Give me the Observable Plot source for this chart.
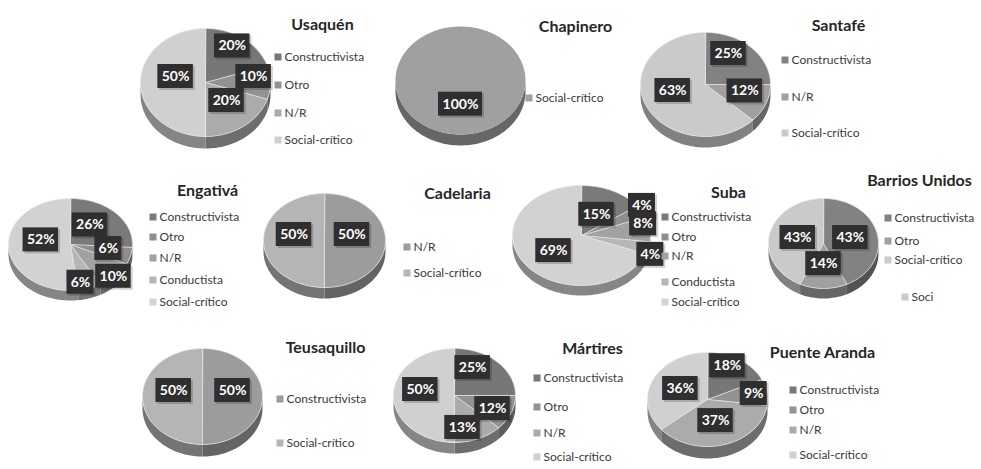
<!DOCTYPE html>
<html>
<head>
<meta charset="utf-8">
<script src="https://cdn.jsdelivr.net/npm/d3@7"></script>
<script src="https://cdn.jsdelivr.net/npm/@observablehq/plot@0.6"></script>
<style>
  body { margin: 0; background: #ffffff; }
  #chart svg { display: block; }
</style>
</head>
<body>
<div id="chart"></div>
<script>
// ---------- DATA ----------
const districts = ["Usaquén", "Chapinero", "Santafé", "Engativá", "Cadelaria",
  "Suba", "Barrios Unidos", "Teusaquillo", "Mártires", "Puente Aranda"];

const catUsaquen = ["Constructivista", "Otro", "N/R", "Social-crítico"];
const valUsaquen = [20, 10, 20, 50];

const catChapinero = ["Social-crítico"];
const valChapinero = [100];

const catSantafe = ["Constructivista", "N/R", "Social-crítico"];
const valSantafe = [25, 12, 63];

const catEngativa = ["Constructivista", "Otro", "N/R", "Conductista", "Social-crítico"];
const valEngativa = [26, 6, 10, 6, 52];

const catCadelaria = ["N/R", "Social-crítico"];
const valCadelaria = [50, 50];

const catSuba = ["Constructivista", "Otro", "N/R", "Conductista", "Social-crítico"];
const valSuba = [15, 4, 8, 4, 69];

const catBarrios = ["Constructivista", "Otro", "Social-crítico"];
const valBarrios = [43, 14, 43];
const legendBarrios = ["Constructivista", "Otro", "Social-crítico", "Soci"];

const catTeusaquillo = ["Constructivista", "Social-crítico"];
const valTeusaquillo = [50, 50];

const catMartires = ["Constructivista", "Otro", "N/R", "Social-crítico"];
const valMartires = [25, 12, 13, 50];

const catPuente = ["Constructivista", "Otro", "N/R", "Social-crítico"];
const valPuente = [18, 9, 37, 36];

const categories = [catUsaquen, catChapinero, catSantafe, catEngativa, catCadelaria,
  catSuba, catBarrios, catTeusaquillo, catMartires, catPuente];
const values = [valUsaquen, valChapinero, valSantafe, valEngativa, valCadelaria,
  valSuba, valBarrios, valTeusaquillo, valMartires, valPuente];
const legends = categories.map((c, i) => i === 6 ? legendBarrios : c);

// ---------- LAYOUT / STYLE ----------
const W = 981, H = 469;
// lf: radial placement factor of each data label ([fx, fy] or single value)
const layout = [
  {cx: 205, cy: 82,  rx: 65, ry: 54, d: 12, tx: 322, ty: 24,  lx: 278, ly: [57, 85, 113, 140],
   lf: [0.7, 0.74, 0.55, 0.46]},
  {cx: 460, cy: 80,  rx: 65, ry: 54, d: 11, tx: 575, ty: 26,  lx: 529, ly: [98],
   lf: [0.55]},
  {cx: 705, cy: 84,  rx: 65, ry: 52, d: 11, tx: 838, ty: 25,  lx: 785, ly: [60, 97, 133],
   lf: [[0.5, 0.68], 0.65, [0.55, 0.58]]},
  {cx: 70,  cy: 244, rx: 62, ry: 46, d: 10, tx: 207, ty: 190, lx: 153, ly: [217, 237, 258, 280, 302],
   lf: [0.43, [0.63, 0.87], [0.95, 1.2], [0.52, 1.0], 0.48]},
  {cx: 324, cy: 240, rx: 61, ry: 47, d: 11, tx: 457, ty: 193, lx: 407, ly: [247, 273],
   lf: [0.45, 0.5]},
  {cx: 581, cy: 235, rx: 69, ry: 50, d: 10, tx: 728, ty: 192, lx: 665, ly: [217, 237, 256, 282, 302],
   lf: [[0.48, 0.34], 1.0, 0.9, [1.03, 2.0], [0.49, 0.75]]},
  {cx: 823, cy: 243, rx: 55, ry: 45, d: 10, tx: 919, ty: 180, lx: [888, 888, 888, 905], ly: [218, 241, 260, 297],
   lf: [[0.5, 0.0], 0.58, [0.48, 0.0]]},
  {cx: 202, cy: 396, rx: 60, ry: 48, d: 12, tx: 325, ty: 347, lx: 280, ly: [399, 443],
   lf: [0.5, 0.48]},
  {cx: 454, cy: 395, rx: 61, ry: 47, d: 11, tx: 592, ty: 348, lx: 537, ly: [378, 407, 433, 457],
   lf: [[0.42, 0.66], [0.67, 1.1], [0.33, 0.88], 0.56]},
  {cx: 707, cy: 399, rx: 60, ry: 47, d: 12, tx: 822, ty: 352, lx: 793, ly: [390, 410, 430, 455],
   lf: [[0.62, 0.7], [0.78, 0.0], [0.48, 0.6], [0.5, 0.25]]}
];
const palettes = {
  1: ["#a0a0a0"],
  2: ["#9c9c9c", "#b5b5b5"],
  3: ["#828282", "#a0a0a0", "#cacaca"],
  4: ["#777777", "#929292", "#ababab", "#d0d0d0"],
  5: ["#7a7a7a", "#8e8e8e", "#a2a2a2", "#b6b6b6", "#d2d2d2"]
};

// ---------- GEOMETRY (via d3.pie) ----------
const pie = d3.pie().sort(null).value(d => d);
const tops = [], sides = [], labels = [], legendRows = [], titles = [];
const STEP = Math.PI / 90;

values.forEach((vals, i) => {
  const L = layout[i];
  const pal = palettes[vals.length];
  const pt = (a, dy = 0) => ({x: L.cx + L.rx * Math.sin(a), y: L.cy - L.ry * Math.cos(a) + dy});
  const arcPts = (a0, a1, dy = 0) => {
    const n = Math.max(2, Math.ceil((a1 - a0) / STEP));
    return d3.range(n + 1).map(k => pt(a0 + (a1 - a0) * k / n, dy));
  };
  pie(vals).forEach((s, j) => {
    const color = pal[j];
    const id = `${i}-${j}`;
    const poly = vals.length > 1 ? [{x: L.cx, y: L.cy}, ...arcPts(s.startAngle, s.endAngle)] : arcPts(s.startAngle, s.endAngle);
    poly.forEach(p => tops.push({...p, id, fill: color, n: vals.length}));
    const b0 = Math.max(s.startAngle, Math.PI / 2), b1 = Math.min(s.endAngle, 3 * Math.PI / 2);
    if (b1 > b0) {
      const side = [...arcPts(b0, b1), ...arcPts(b0, b1, L.d).reverse()];
      const dark = d3.color(color).darker(1.25).formatHex();
      side.forEach(p => sides.push({...p, id: "s" + id, fill: dark}));
    }
    const mid = (s.startAngle + s.endAngle) / 2;
    const f = L.lf[j];
    const fx = Array.isArray(f) ? f[0] : f, fy = Array.isArray(f) ? f[1] : f;
    const text = `${s.data}%`;
    labels.push({
      x: L.cx + fx * L.rx * Math.sin(mid),
      y: L.cy - fy * L.ry * Math.cos(mid) - 6,
      text, w: 10 + 8.5 * text.length
    });
  });
  legends[i].forEach((name, j) => {
    const lx = Array.isArray(L.lx) ? L.lx[j] : L.lx;
    legendRows.push({x: lx, y: L.ly[j], name, fill: pal[Math.min(j, pal.length - 1)]});
  });
  titles.push({x: L.tx, y: L.ty, name: districts[i]});
});

// ---------- PLOT ----------
const chart = Plot.plot({
  width: W, height: H,
  margin: 0,
  x: {domain: [0, W], range: [0, W], axis: null},
  y: {domain: [0, H], range: [0, H], axis: null},
  color: {type: "identity"},
  style: {fontFamily: "Lato, 'Open Sans', sans-serif", background: "#ffffff"},
  marks: [
    Plot.line(sides, {x: "x", y: "y", z: "id", fill: "fill", stroke: "none", curve: "linear-closed"}),
    Plot.line(tops, {x: "x", y: "y", z: "id", fill: "fill", stroke: d => d.n > 1 ? "#e6e6e6" : "none", strokeWidth: 0.7, curve: "linear-closed"}),
    Plot.rect(labels, {x1: d => d.x - d.w / 2 + 2, x2: d => d.x + d.w / 2 + 2, y1: d => d.y - 12 + 2, y2: d => d.y + 12 + 2, fill: "#000000", fillOpacity: 0.18}),
    Plot.rect(labels, {x1: d => d.x - d.w / 2, x2: d => d.x + d.w / 2, y1: d => d.y - 12, y2: d => d.y + 12, fill: "#2f2f2f"}),
    Plot.text(labels, {x: "x", y: "y", text: "text", fill: "#ffffff", fontWeight: "bold", fontSize: 14}),
    Plot.rect(legendRows, {x1: d => d.x - 3.5, x2: d => d.x + 3.5, y1: d => d.y - 3.5, y2: d => d.y + 3.5, fill: "fill"}),
    Plot.text(legendRows, {x: d => d.x + 6, y: "y", text: "name", textAnchor: "start", fill: "#3a3a3a", fontSize: 12}),
    Plot.text(titles, {x: "x", y: "y", text: "name", fill: "#262626", fontWeight: "bold", fontSize: 16})
  ]
});
document.getElementById("chart").appendChild(chart);
</script>
</body>
</html>
